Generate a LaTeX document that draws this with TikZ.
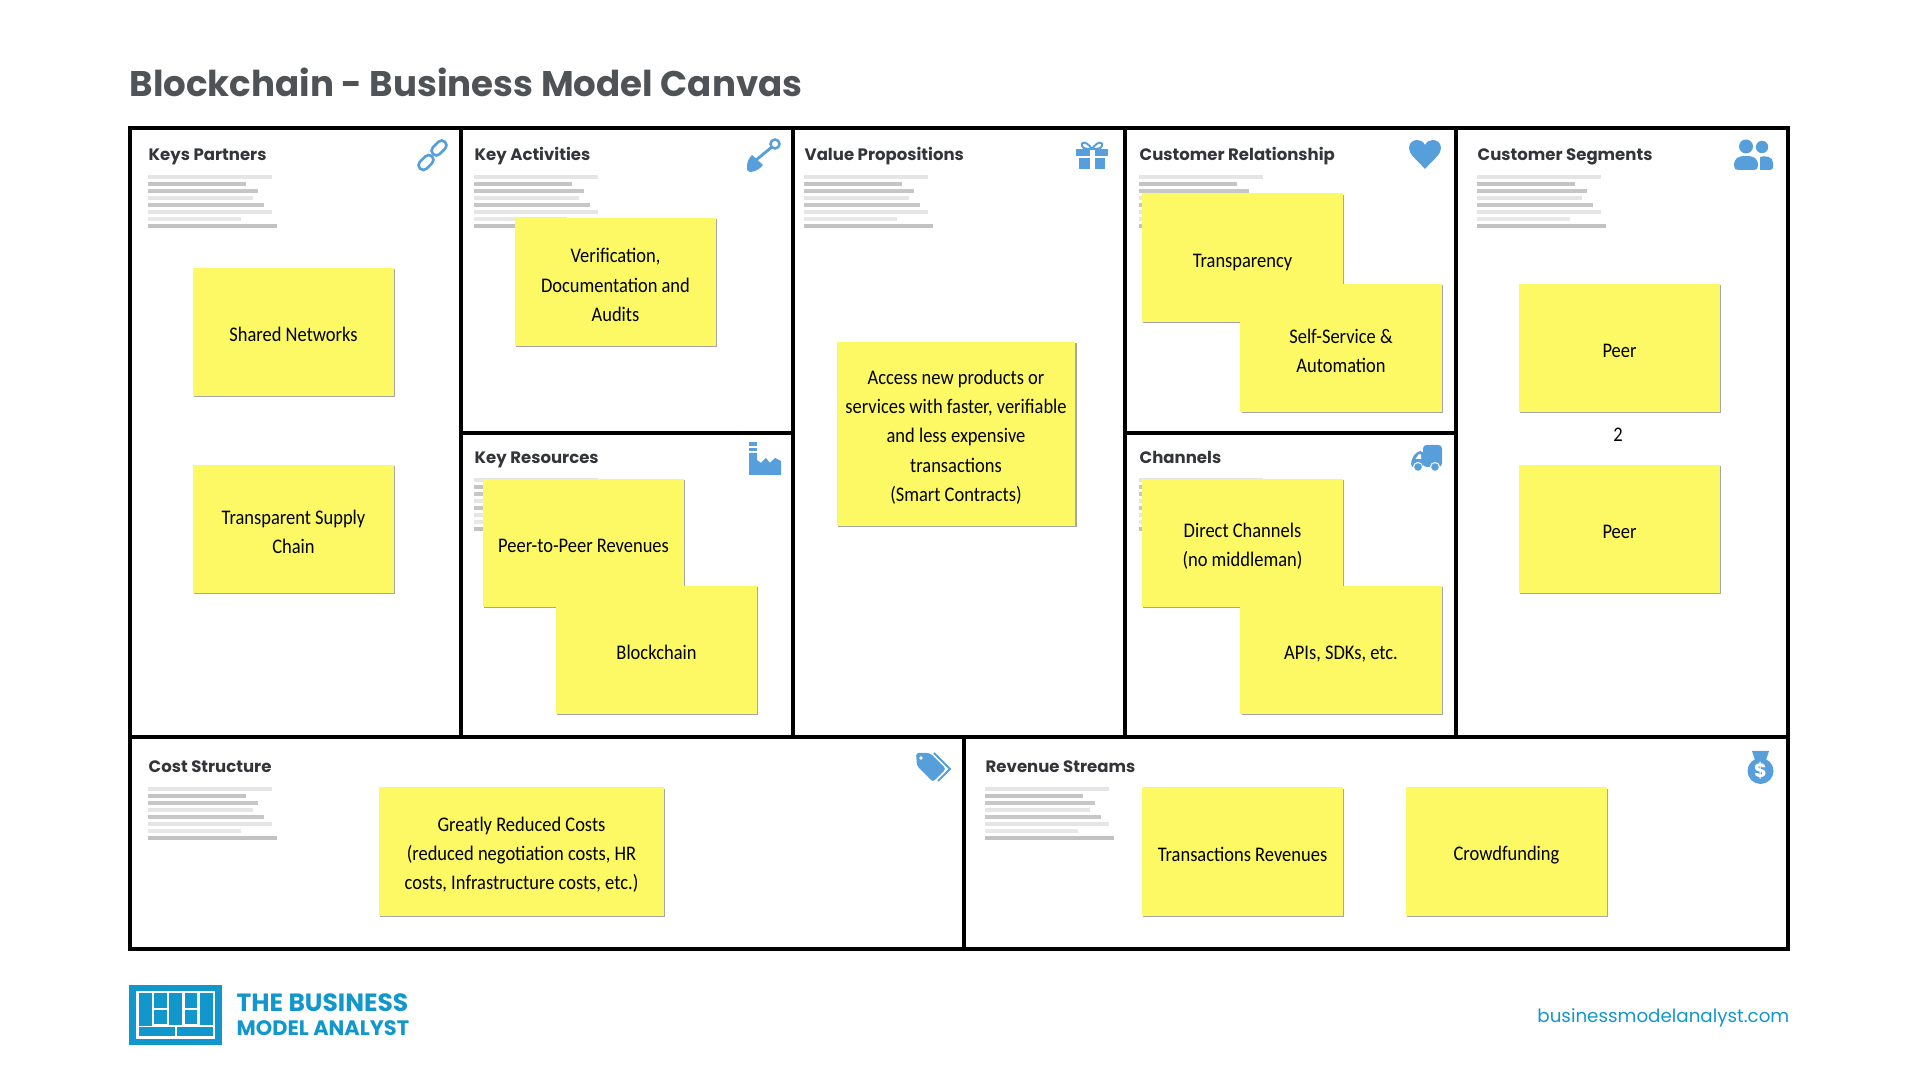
\documentclass[tikz,border=0pt]{standalone}
\usepackage{fontspec}
\setmainfont{Poppins}
\newfontfamily\notefont[FakeStretch=0.89]{Carlito}
\usetikzlibrary{shadows}
\definecolor{noteyellow}{HTML}{FCF964}
\definecolor{iconblue}{HTML}{569FDA}
\definecolor{brandblue}{HTML}{1297CC}
\definecolor{headgrey}{HTML}{333538}
\definecolor{titlegrey}{HTML}{505356}
\tikzset{
  sticky/.style={fill=noteyellow, minimum width=2.01cm, minimum height=1.28cm, inner sep=1pt, align=center,
    font=\notefont\fontsize{5.9}{8.35}\selectfont, text=black,
    execute at begin node={\rule{0pt}{5.5pt}},
    drop shadow={shadow xshift=.35pt, shadow yshift=-.35pt, opacity=.35, fill=black}},
  head/.style={anchor=base west, inner sep=0pt, font=\bfseries\fontsize{4.7}{6}\selectfont, text=headgrey},
  cellline/.style={line width=1.35pt, black},
  icon/.style={fill=iconblue, draw=none},
  logocell/.style={fill=brandblue, draw=none}
}
% taller first row, brings stacked lines down a little
\newcommand{\toprow}{\rule{0pt}{5.9pt}}
% same for one line with a descender
\newcommand{\lowrow}{\rule{0pt}{6.4pt}}
% eight grey bars under a heading
\newcommand{\greylines}[2]{
  \foreach \k/\w/\g in {0/124/10, 1/98/23, 2/110/22, 3/105/10, 4/116/22, 5/124/10, 6/93/9, 7/129/24}
    \fill[black!\g] (#1,{#2+\k*7.05-1.9}) rectangle ({#1+\w},{#2+\k*7.05+1.9});
}
\begin{document}
\begin{tikzpicture}[x=0.01cm, y=-0.01cm, line cap=butt]
  \useasboundingbox (0,0) rectangle (1920,1080);

  \node[anchor=west, inner sep=0pt, text=titlegrey, font=\bfseries\fontsize{10.13}{13}\selectfont] (title) at (129,82) {Blockchain - Business Model Canvas};

  % canvas frame
  \draw[cellline] (130,128) rectangle (1788,949);
  \draw[cellline] (130,737) -- (1788,737);
  \draw[cellline] (461,128) -- (461,737);
  \draw[cellline] (793,128) -- (793,737);
  \draw[cellline] (1125,128) -- (1125,737);
  \draw[cellline] (1456,128) -- (1456,737);
  \draw[cellline] (461,433) -- (793,433);
  \draw[cellline] (1125,433) -- (1456,433);
  \draw[cellline] (964,737) -- (964,949);

  % headings
  \node[head] (partners) at (148,160.5) {Keys Partners};
  \node[head] (activities) at (474,160.5) {Key Activities};
  \node[head] (resources) at (474,463.5) {Key Resources};
  \node[head] (value) at (804,160.5) {Value Propositions};
  \node[head] (relation) at (1139,160.5) {Customer Relationship};
  \node[head] (channels) at (1139,463.5) {Channels};
  \node[head] (segments) at (1477,160.5) {Customer Segments};
  \node[head] (cost) at (148,772.5) {Cost Structure};
  \node[head] (revenue) at (985,772.5) {Revenue Streams};

  \greylines{148}{177}
  \greylines{474}{177}
  \greylines{474}{480}
  \greylines{804}{177}
  \greylines{1139}{177}
  \greylines{1139}{480}
  \greylines{1477}{177}
  \greylines{148}{789}
  \greylines{985}{789}

  % notes
  \node[sticky] (shared) at (293.5,332) {Shared Networks};
  \node[sticky] (supply) at (293.5,529) {\toprow Transparent Supply\\Chain};
  \node[sticky] (verify) at (615.5,282) {\toprow Verification,\\Documentation and\\Audits};
  \node[sticky] (peerrev) at (583.5,543) {Peer-to-Peer Revenues};
  \node[sticky] (chain) at (656.5,650) {Blockchain};
  \node[sticky, minimum width=2.385cm, minimum height=1.84cm] (access) at (956,434) {\toprow Access new products or\\services with faster, verifiable\\and less expensive\\transactions\\(Smart Contracts)};
  \node[sticky] (transp) at (1242.5,257.5) {\lowrow Transparency};
  \node[sticky] (selfserv) at (1341,348) {\toprow Self-Service \&\\Automation};
  \node[sticky] (direct) at (1242.5,543) {\toprow Direct Channels\\(no middleman)};
  \node[sticky] (apis) at (1341,650) {\lowrow APIs, SDKs, etc.};
  \node[sticky] (peera) at (1619.5,348) {Peer};
  \node[sticky] (peerb) at (1619.5,529) {Peer};
  \node[text=black, inner sep=0pt, font=\notefont\fontsize{5.9}{8.35}\selectfont] (two) at (1618,435) {2};
  \node[sticky, minimum width=2.85cm] (reduced) at (521.5,851.5) {\toprow Greatly Reduced Costs\\(reduced negotiation costs, HR\\costs, Infrastructure costs, etc.)};
  \node[sticky] (transrev) at (1242.5,851.5) {Transactions Revenues};
  \node[sticky] (crowd) at (1506.5,851.5) {\lowrow Crowdfunding};

  % icons
  % link
  \node[draw=iconblue, line width=.75pt, rounded corners=1.3pt, rotate=45, minimum width=.17cm, minimum height=.095cm, inner sep=0pt] (linka) at (426,162.5) {};
  \node[draw=iconblue, line width=.75pt, rounded corners=1.3pt, rotate=45, minimum width=.17cm, minimum height=.095cm, inner sep=0pt] (linkb) at (439,148) {};
  % shovel
  \draw[iconblue, line width=.8pt] (756,160) -- (772,147);
  \draw[iconblue, line width=.7pt] (775,144) circle (4.5);
  \fill[icon] (752,155) -- (763,165) .. controls (759,170) and (754,172) .. (750,172) .. controls (747,172) and (747,170) .. (747,166) .. controls (747,162) and (749,158) .. (752,155);
  % gift
  \fill[icon] (1076,149) rectangle (1108,156);
  \fill[icon] (1079,158) rectangle (1105,169);
  \fill[white] (1089.5,149) rectangle (1094.5,169);
  \draw[iconblue, line width=.55pt] (1092,149) .. controls (1086,140) and (1080,142) .. (1082,146) .. controls (1083,149) and (1088,149) .. (1092,149) .. controls (1096,149) and (1101,149) .. (1102,146) .. controls (1104,142) and (1098,140) .. (1092,149);
  % heart
  \fill[icon] (1425,169) .. controls (1415,158) and (1409,154) .. (1409,148) .. controls (1409,142) and (1414,140) .. (1417,140) .. controls (1420,140) and (1423,141) .. (1425,145) .. controls (1427,141) and (1430,140) .. (1433,140) .. controls (1436,140) and (1441,142) .. (1441,148) .. controls (1441,154) and (1435,158) .. (1425,169);
  % people
  \fill[icon] (1762,147) circle (6.2);
  \fill[icon] (1746,146.5) circle (7);
  \fill[icon] (1760,170) -- (1760,157) .. controls (1766,155) and (1773,157) .. (1773,163) -- (1773,167) .. controls (1773,169) and (1772,170) .. (1770,170) -- cycle;
  \fill[icon] (1734,166) .. controls (1734,158) and (1738,156) .. (1746,156) .. controls (1754,156) and (1758,158) .. (1758,166) .. controls (1758,169) and (1756,170) .. (1754,170) -- (1738,170) .. controls (1736,170) and (1734,169) .. (1734,166);
  % factory
  \fill[icon] (749,442) rectangle (757,446);
  \fill[icon] (749,448) rectangle (757,451);
  \fill[icon] (749,453) -- (757,453) -- (757,460) -- (761,463) -- (766,458) -- (770,463) -- (775,458) -- (781,461) -- (781,475) -- (749,475) -- cycle;
  % truck
  \fill[icon, rounded corners=1pt] (1423,445) rectangle (1442,467);
  \fill[icon, rounded corners=1.2pt] (1411,468) -- (1411,460) -- (1417,451) -- (1424,451) -- (1424,468) -- cycle;
  \fill[white] (1415.5,459) -- (1418.5,454.5) -- (1421,454.5) -- (1421,459) -- cycle;
  \fill[icon, draw=white, line width=.3pt] (1418,467) circle (4.5);
  \fill[icon, draw=white, line width=.3pt] (1435,467) circle (4.5);
  % tags
  \draw[iconblue, line width=.55pt] (934,753) -- (950,769) -- (938,781);
  \fill[icon, rounded corners=.8pt] (916,753) -- (930,753) -- (946,769) -- (933,782) -- (917,766) -- cycle;
  \fill[white] (921,758) circle (1.8);
  % money bag
  \fill[icon] (1760.5,771) circle (13);
  \fill[icon] (1752,751) -- (1769,751) -- (1766,760) -- (1755,760) -- cycle;
  \node[text=white, inner sep=0pt, font=\bfseries\fontsize{5.5}{6}\selectfont] (dollar) at (1760.5,771) {\$};

  % logo
  \fill[brandblue] (129,985) rectangle (222,1045);
  \fill[white] (136,991) rectangle (215,1039);
  \fill[logocell] (138.5,993.5) rectangle (151.5,1026);
  \fill[logocell] (154,993.5) rectangle (166.5,1008.5);
  \fill[logocell] (154,1010.5) rectangle (166.5,1024);
  \fill[logocell] (169,993.5) rectangle (181.5,1025);
  \fill[logocell] (184.5,993.5) rectangle (197,1008.5);
  \fill[logocell] (184.5,1010.5) rectangle (197,1024);
  \fill[logocell] (200,993.5) rectangle (212.5,1025);
  \fill[logocell] (138.5,1027.5) rectangle (174.5,1036.5);
  \fill[logocell] (177,1027.5) rectangle (212.5,1036.5);
  \node[anchor=west, inner sep=0pt, text=brandblue, font=\bfseries\fontsize{7.1}{8}\selectfont] (brandtop) at (236,1002.5) {THE BUSINESS};
  \node[anchor=west, inner sep=0pt, text=brandblue, font=\bfseries\fontsize{5.95}{7}\selectfont] (brandlow) at (236,1028.5) {MODEL ANALYST};
  \node[anchor=east, inner sep=0pt, text=brandblue, font=\fontsize{5.2}{7}\selectfont] (website) at (1790,1018) {businessmodelanalyst.com};
\end{tikzpicture}
\end{document}
